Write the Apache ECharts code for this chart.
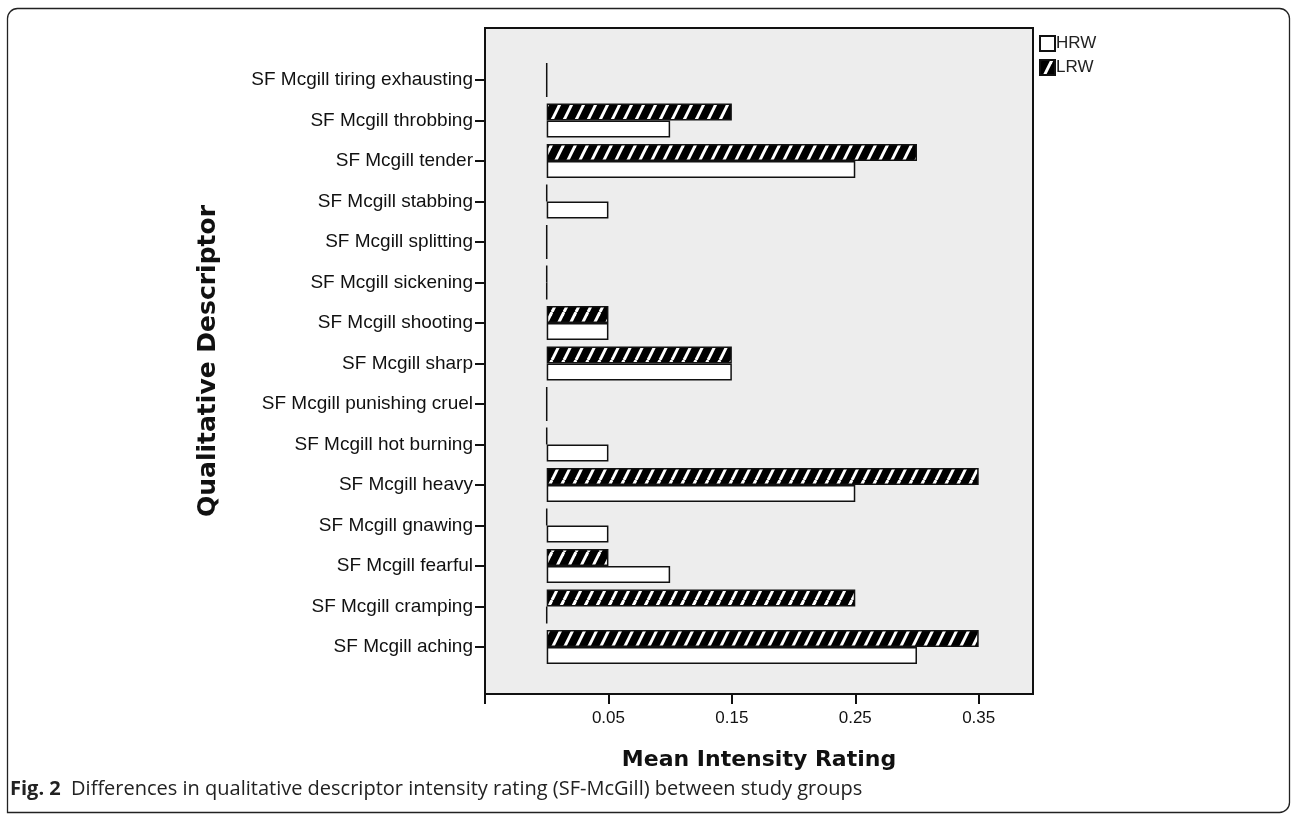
<!DOCTYPE html>
<html>
<head>
<meta charset="utf-8">
<script src="https://cdn.jsdelivr.net/npm/echarts@6/dist/echarts.min.js"></script>
<style>html,body{margin:0;padding:0;background:#fff;}#chart{width:1292px;height:820px;}</style>
</head>
<body>
<div id="chart"></div>
<script>
const categories = [
  'SF Mcgill tiring exhausting',
  'SF Mcgill throbbing',
  'SF Mcgill tender',
  'SF Mcgill stabbing',
  'SF Mcgill splitting',
  'SF Mcgill sickening',
  'SF Mcgill shooting',
  'SF Mcgill sharp',
  'SF Mcgill punishing cruel',
  'SF Mcgill hot burning',
  'SF Mcgill heavy',
  'SF Mcgill gnawing',
  'SF Mcgill fearful',
  'SF Mcgill cramping',
  'SF Mcgill aching'
];
const hrwValues = [0, 0.10, 0.25, 0.05, 0, 0, 0.05, 0.15, 0, 0.05, 0.25, 0.05, 0.10, 0, 0.30];
const lrwValues = [0, 0.15, 0.30, 0, 0, 0, 0.05, 0.15, 0, 0, 0.35, 0, 0.05, 0.25, 0.35];
const tickValues = [-0.05, 0.05, 0.15, 0.25, 0.35];
const tickLabels = [0.05, 0.15, 0.25, 0.35];
const seriesNames = ['HRW', 'LRW'];

function hatch() {
  const c = document.createElement('canvas');
  c.width = 12; c.height = 24;
  const g = c.getContext('2d');
  g.fillStyle = '#000';
  g.fillRect(0, 0, 12, 24);
  g.strokeStyle = '#fff';
  g.lineWidth = 3;
  for (let k = -1; k <= 1; k++) {
    g.beginPath();
    g.moveTo(k * 12, 24);
    g.lineTo(k * 12 + 12, 0);
    g.stroke();
  }
  return c;
}

const chart = echarts.init(document.getElementById('chart'), null, {renderer: 'canvas'});
const XMIN = -0.05, XMAX = 0.394;
const font = 'Liberation Sans, Arial, sans-serif';
const titleFont = 'DejaVu Sans, Verdana, sans-serif';

chart.setOption({
  animation: false,
  backgroundColor: '#fff',
  grid: [
    {left: 485, top: 28, width: 548, height: 666, show: true, backgroundColor: '#EDEDED', borderColor: '#111', borderWidth: 2},
    {left: 485, top: 59.75, width: 548, height: 607.5}
  ],
  legend: {
    data: seriesNames,
    orient: 'vertical',
    left: 1034, top: 30,
    itemWidth: 15, itemHeight: 15, itemGap: 7,
    icon: 'rect',
    textStyle: {fontFamily: font, fontSize: 17, color: '#222', padding: [0,0,0,-4]}
  },
  xAxis: [
    {
      gridIndex: 0, type: 'value', min: XMIN, max: XMAX, interval: 0.1,
      splitLine: {show: false},
      axisLine: {show: true, lineStyle: {color: '#111', width: 2}},
      axisTick: {show: true, length: 10, customValues: tickValues, lineStyle: {color: '#111', width: 2}},
      axisLabel: {
        fontFamily: font, fontSize: 17, color: '#111', margin: 16,
        customValues: tickLabels,
        formatter: function (v) { return v.toFixed(2); }
      },
      name: 'Mean Intensity Rating', nameLocation: 'middle', nameGap: 55,
      nameTextStyle: {fontFamily: titleFont, fontWeight: 'bold', fontSize: 22, color: '#111'}
    },
    {gridIndex: 1, type: 'value', min: XMIN, max: XMAX, show: false, splitLine: {show: false}}
  ],
  yAxis: [
    {
      gridIndex: 0, type: 'value', min: 0, max: 1,
      axisLine: {show: false}, axisTick: {show: false}, axisLabel: {show: false}, splitLine: {show: false},
      name: 'Qualitative Descriptor', nameLocation: 'middle', nameGap: 264,
      nameTextStyle: {fontFamily: titleFont, fontWeight: 'bold', fontSize: 25, color: '#111'}
    },
    {
      gridIndex: 1, type: 'category', data: categories, inverse: true,
      axisLine: {show: false, onZero: false},
      axisTick: {show: true, alignWithLabel: true, length: 10, lineStyle: {color: '#111', width: 2}},
      axisLabel: {fontFamily: font, fontSize: 19, color: '#111', margin: 12},
      splitLine: {show: false}
    }
  ],
  series: [
    {
      name: 'LRW', type: 'bar', xAxisIndex: 1, yAxisIndex: 1, data: lrwValues,
      barWidth: 17, barGap: '0%',
      itemStyle: {color: {image: hatch(), repeat: 'repeat'}, borderColor: '#111', borderWidth: 1.5}
    },
    {
      name: 'HRW', type: 'bar', xAxisIndex: 1, yAxisIndex: 1, data: hrwValues,
      barWidth: 17, barGap: '0%',
      itemStyle: {color: '#fff', borderColor: '#111', borderWidth: 1.5}
    }
  ],
  graphic: [
    {type: 'rect', shape: {x: 7.5, y: 8.5, width: 1282, height: 804, r: [10, 10, 10, 0]}, style: {fill: 'none', stroke: '#222', lineWidth: 1.3}, z: -1},
    {type: 'text', left: 10, top: 779, style: {
      text: '{b|Fig. 2}  Differences in qualitative descriptor intensity rating (SF-McGill) between study groups',
      fontFamily: 'Open Sans, sans-serif', fontSize: 20, fill: '#222',
      rich: {b: {fontFamily: 'Open Sans, sans-serif', fontSize: 20, fontWeight: 'bold', fill: '#222'}}
    }}
  ]
});
</script>
</body>
</html>
